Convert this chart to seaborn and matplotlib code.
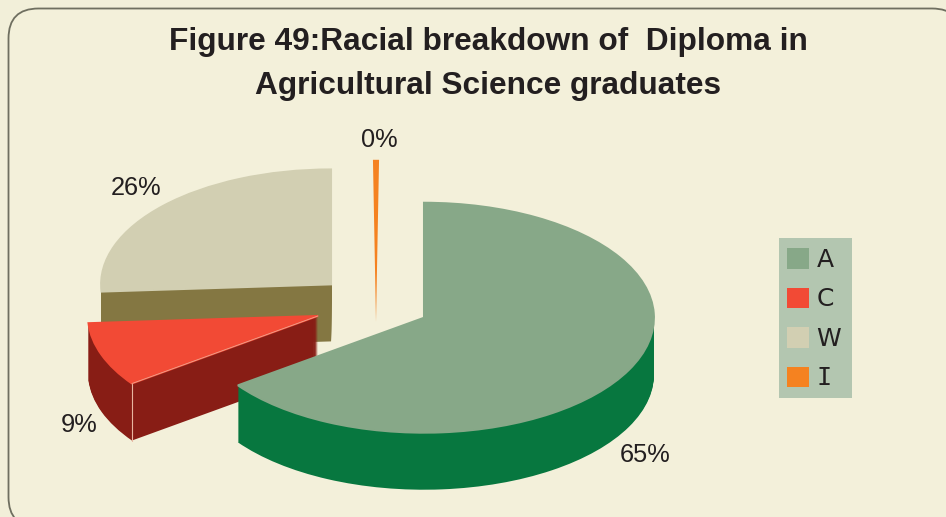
import numpy as np
import pandas as pd
import seaborn as sns
import matplotlib.pyplot as plt
from matplotlib.patches import FancyBboxPatch, Patch, Rectangle

# values as labelled on the chart (I is a sliver that rounds to 0%)
groups = ['A', 'C', 'W', 'I']
shares = [65, 9, 26, 0.3]

top_colors = ['#87a888', '#f24a35', '#d2cfb2', '#f58220']
wall_colors = ['#07773f', '#881d15', '#847742', '#f58220']
explode = [0.234, 0.268, 0.268, -0.143]
radius = [1, 1, 1, 1.41]
depth = [57, 57, 57, 0]
draw_order = ['W', 'I', 'C', 'A']

label_pos = {'A': (645, 455), 'C': (79, 425), 'W': (136, 188), 'I': (379, 140)}

W, H = 946, 517
CX, CY = 376, 305.5   # pie centre in pixels
RX, RY = 230, 115     # ellipse radii in pixels

BG = '#f2efd9'

sns.set_theme(style='white')
plt.rcParams['font.family'] = ['Liberation Sans', 'DejaVu Sans']

df = pd.DataFrame({'group': groups, 'share': shares, 'top': top_colors, 'wall': wall_colors,
                   'explode': explode, 'radius': radius, 'depth': depth})
df['start'] = df['share'].shift(fill_value=0).cumsum() * 3.6
df.loc[df['group'] == 'I', 'start'] = 360 - df.loc[df['group'] == 'I', 'share'] * 1.8

fig = plt.figure(figsize=(W / 100, H / 100), dpi=100, facecolor=BG)
ax = fig.add_axes([0, 0, 1, 1])


def draw_slice(row, offset, color, lw=0.0):
    ax.pie([row['share'] / 100], colors=[color], explode=[row['explode']],
           radius=row['radius'], startangle=90 - row['start'], counterclock=False,
           normalize=False, center=(0, -offset / RY),
           wedgeprops={'linewidth': lw, 'edgecolor': color})


for name in draw_order:
    row = df[df['group'] == name].iloc[0]
    for offset in np.arange(row['depth'], 0, -1):
        draw_slice(row, offset, row['wall'])
    draw_slice(row, 0, row['top'], lw=1.4 if row['depth'] else 0.0)
    if name == 'C':
        # pale corner lines on the red slice
        mid = np.radians(90 - row['start'] - row['share'] * 1.8)
        ang = np.radians(90 - row['start'])
        ax0 = row['explode'] * np.cos(mid)
        ay0 = row['explode'] * np.sin(mid)
        x0 = ax0 + np.cos(ang)
        y0 = ay0 + np.sin(ang)
        ax.plot([x0, x0], [y0, y0 - row['depth'] / RY], color='#e8b5a0', lw=0.8, zorder=1)
        ax.plot([ax0, x0], [ay0, y0], color='#f0a58f', lw=0.6, zorder=1)

ax.set_aspect('auto')
ax.set_xlim(-CX / RX, (W - CX) / RX)
ax.set_ylim((CY - H) / RY, CY / RY)

# rounded panel border, runs off the right and bottom of the image
bg_ax = fig.add_axes([0, 0, 1, 1], zorder=-1)
bg_ax.set_xlim(0, W)
bg_ax.set_ylim(H, 0)
bg_ax.axis('off')
bg_ax.add_patch(FancyBboxPatch((38.5, 38.5), 893.5, 458.5,
                               boxstyle='round,pad=30,rounding_size=30',
                               facecolor='#f3f0da', edgecolor='#6f6f60', lw=1.3))
# legend panel
bg_ax.add_patch(Rectangle((779, 238), 73, 160, facecolor='#b3c6b0', edgecolor='none'))

fig.text(488 / W, 1 - 42 / H, 'Figure 49:Racial breakdown of  Diploma in', ha='center', va='center',
         fontsize=22.8, fontweight='bold', color='#231f20')
fig.text(488 / W, 1 - 86 / H, 'Agricultural Science graduates', ha='center', va='center',
         fontsize=22.8, fontweight='bold', color='#231f20')

for name, share in zip(groups, shares):
    px, py = label_pos[name]
    fig.text(px / W, 1 - py / H, f'{share:.0f}%', ha='center', va='center',
             fontsize=18.3, color='#231f20')

legend_handles = [Patch(facecolor=c, edgecolor='none', linewidth=0) for c in top_colors]
leg = ax.legend(legend_handles, groups, loc='upper left',
                bbox_to_anchor=(779 / W, 1 - 240 / H), bbox_transform=fig.transFigure,
                fontsize=18, frameon=False, borderaxespad=0, borderpad=0.32,
                handlelength=0.88, handleheight=0.88, handletextpad=0.3, labelspacing=0.62)
for t in leg.get_texts():
    t.set_family('DejaVu Sans')
    t.set_color('#231f20')
leg.get_texts()[3].set_family('DejaVu Sans Mono')

fig.savefig('out.png', dpi=100, facecolor=BG)
